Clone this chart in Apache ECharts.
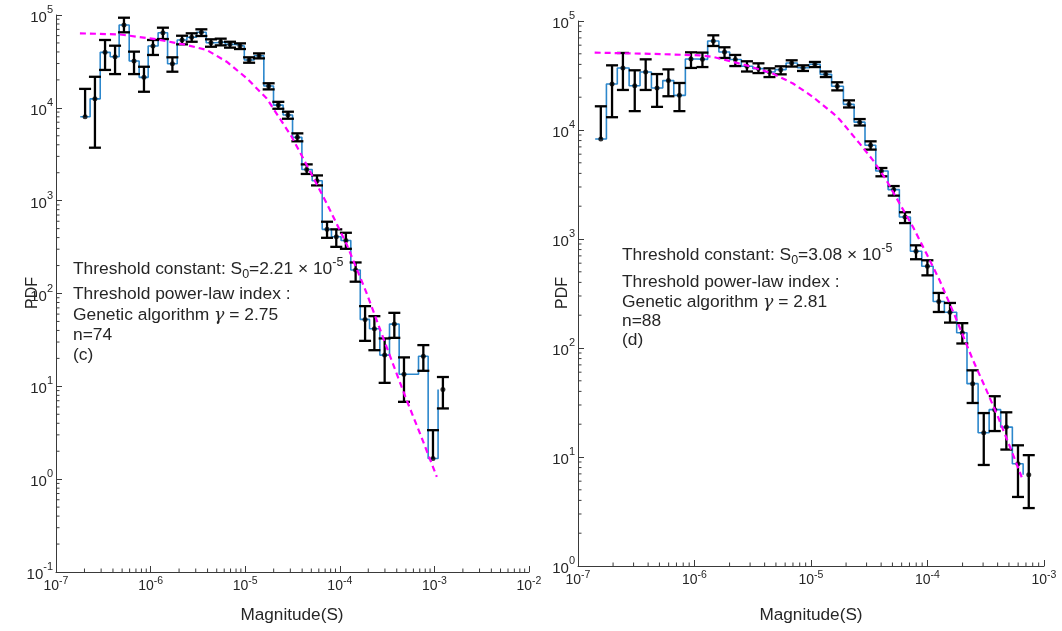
<!DOCTYPE html>
<html>
<head>
<meta charset="utf-8">
<script src="https://cdn.jsdelivr.net/npm/echarts@6/dist/echarts.min.js"></script>
<style>
  html, body { margin: 0; padding: 0; background: #ffffff; }
  #chart { width: 1062px; height: 631px; }
</style>
</head>
<body>
<div id="chart"></div>
<script>
// ---------- Panel (c) ----------
const magC = [2.03e-7, 2.58e-7, 3.30e-7, 4.21e-7, 5.23e-7, 6.68e-7, 8.51e-7, 1.06e-6, 1.35e-6, 1.70e-6,
  2.15e-6, 2.72e-6, 3.44e-6, 4.35e-6, 5.51e-6, 6.91e-6, 8.81e-6, 1.10e-5, 1.40e-5, 1.77e-5,
  2.24e-5, 2.83e-5, 3.56e-5, 4.47e-5, 5.74e-5, 7.33e-5, 9.18e-5, 1.16e-4, 1.47e-4, 1.85e-4,
  2.32e-4, 2.98e-4, 3.77e-4, 4.77e-4, 7.64e-4, 9.66e-4, 1.23e-3];
const pdfC = [8.02e3, 1.25e4, 3.96e4, 3.55e4, 7.80e4, 3.19e4, 2.13e4, 4.63e4, 6.44e4, 2.99e4,
  5.38e4, 5.75e4, 6.51e4, 5.03e4, 5.12e4, 4.83e4, 4.63e4, 3.27e4, 3.64e4, 1.72e4,
  1.07e4, 8.36e3, 4.81e3, 2.17e3, 1.64e3, 491, 408, 373, 179, 52.6,
  41.7, 21.7, 46.8, 13.5, 21.1, 1.67, 9.27];
const errHighC = [1.60e4, 2.16e4, 5.38e4, 4.67e4, 9.35e4, 4.03e4, 2.77e4, 5.38e4, 7.30e4, 3.50e4,
  5.98e4, 6.35e4, 7.01e4, 5.47e4, 5.56e4, 5.15e4, 4.95e4, 3.50e4, 3.86e4, 1.84e4,
  1.16e4, 9.08e3, 5.31e3, 2.46e3, 1.87e3, 593, 491, 451, 216, 73.1,
  57.0, 32.8, 61.9, 20.5, 27.8, 3.37, 12.6];
// null: the lower end falls at or below zero and is not drawn on the log scale
const errLowC = [null, 3.72e3, 2.56e4, 2.31e4, 6.51e4, 2.31e4, 1.49e4, 3.71e4, 5.51e4, 2.45e4,
  4.83e4, 5.15e4, 5.94e4, 4.55e4, 4.71e4, 4.45e4, 4.30e4, 3.06e4, 3.41e4, 1.58e4,
  9.77e3, 7.63e3, 4.36e3, 1.94e3, 1.46e3, 398, 318, 303, 134, 30.9,
  24.5, 10.9, 33.3, 6.81, 14.7, null, 5.78];
const fitMagC = [1.79e-7, 4.75e-7, 1.16e-6, 2.41e-6, 3.92e-6, 6.37e-6, 1.04e-5, 1.69e-5,
  3.10e-5, 4.47e-5, 7.27e-5, 1.18e-4, 1.92e-4, 3.13e-4, 5.09e-4, 7.05e-4, 1.06e-3];
const fitPdfC = [6.35e4, 6.17e4, 5.47e4, 4.75e4, 4.20e4, 3.14e4, 2.08e4, 1.26e4,
  4.88e3, 2.42e3, 935, 340, 101, 26.4, 7.10, 3.10, 1.06];
const binLogWidthC = 0.102;   // histogram bin width in decades

// ---------- Panel (d) ----------
const magD = [1.57e-7, 1.96e-7, 2.43e-7, 3.07e-7, 3.81e-7, 4.77e-7, 5.97e-7, 7.42e-7, 9.33e-7, 1.17e-6,
  1.45e-6, 1.81e-6, 2.24e-6, 2.82e-6, 3.54e-6, 4.40e-6, 5.50e-6, 6.83e-6, 8.54e-6, 1.08e-5,
  1.34e-5, 1.68e-5, 2.12e-5, 2.62e-5, 3.25e-5, 4.02e-5, 5.13e-5, 6.41e-5, 7.97e-5, 9.98e-5,
  1.25e-4, 1.56e-4, 1.99e-4, 2.44e-4, 3.04e-4, 3.78e-4, 4.75e-4, 5.98e-4, 7.40e-4];
const pdfD = [8.27e3, 2.64e4, 3.71e4, 2.55e4, 3.40e4, 2.43e4, 2.84e4, 2.08e4, 4.48e4, 4.45e4,
  6.56e4, 5.20e4, 4.43e4, 3.84e4, 3.66e4, 3.40e4, 3.58e4, 4.12e4, 3.73e4, 4.01e4,
  3.24e4, 2.52e4, 1.72e4, 1.18e4, 7.24e3, 4.21e3, 2.84e3, 1.59e3, 771, 562,
  267, 213, 138, 47.1, 16.7, 27.2, 18.8, 8.67, 6.89];
const errHighD = [1.65e4, 3.92e4, 5.09e4, 3.53e4, 4.45e4, 3.26e4, 3.60e4, 2.70e4, 5.16e4, 5.13e4,
  7.39e4, 5.74e4, 4.88e4, 4.27e4, 4.09e4, 3.68e4, 3.84e4, 4.36e4, 3.92e4, 4.21e4,
  3.44e4, 2.74e4, 1.87e4, 1.26e4, 7.87e3, 4.48e3, 3.06e3, 1.76e3, 875, 638,
  320, 259, 169, 62.4, 25.3, 36.1, 25.7, 12.8, 10.4];
const errLowD = [null, 1.31e4, 2.33e4, 1.49e4, 2.33e4, 1.63e4, 2.04e4, 1.49e4, 3.71e4, 3.78e4,
  5.90e4, 4.58e4, 3.86e4, 3.44e4, 3.33e4, 3.06e4, 3.24e4, 3.82e4, 3.48e4, 3.78e4,
  3.06e4, 2.31e4, 1.61e4, 1.10e4, 6.61e3, 3.76e3, 2.50e3, 1.40e3, 652, 464,
  214, 171, 110, 31.3, 8.45, 17.3, 11.7, 4.30, 3.40];
const fitMagD = [1.39e-7, 4.13e-7, 1.11e-6, 1.44e-6, 2.79e-6, 4.72e-6, 7.01e-6, 1.04e-5, 1.55e-5,
  1.76e-5, 2.62e-5, 3.41e-5, 4.44e-5, 5.77e-5, 7.51e-5, 9.79e-5, 1.27e-4, 1.71e-4, 2.46e-4,
  3.21e-4, 4.03e-4, 5.25e-4, 6.44e-4];
const fitPdfD = [5.13e4, 5.00e4, 4.84e4, 4.69e4, 3.92e4, 3.29e4, 2.67e4, 2.01e4, 1.42e4,
  1.25e4, 7.50e3, 5.27e3, 3.46e3, 2.11e3, 1.29e3, 735, 418, 200, 77.1,
  40.9, 23.3, 11.5, 6.52];
const binLogWidthD = 0.0967;

// ---------- Annotation text ----------
const notesC = { s0: '2.21', s0Exp: '-5', gamma: '2.75', n: 'n=74', tag: '(c)' };
const notesD = { s0: '3.08', s0Exp: '-5', gamma: '2.81', n: 'n=88', tag: '(d)' };

// ---------- Styling ----------
const FONT = 'Liberation Sans, Arial, Helvetica, sans-serif';
const AXIS_COLOR = '#3a3a3a';
const TEXT_COLOR = '#262626';
const STAIR_COLOR = '#2c87cc';
const FIT_COLOR = '#ff00ff';

const chart = echarts.init(document.getElementById('chart'), null, { renderer: 'canvas' });

function powerLabel(v) {
  const e = Math.round(Math.log10(v));
  return '{b|10}{s|' + e + '}';
}

function labelRich(isY) {
  return {
    b: { fontSize: isY ? 15 : 14, fontFamily: FONT, color: TEXT_COLOR, padding: isY ? [6, 0, 0, 0] : 0 },
    s: { fontSize: isY ? 11 : 10.5, fontFamily: FONT, color: TEXT_COLOR, padding: [0, 0, 10, 0] }
  };
}

function xAxisCfg(gi, max, n) {
  return {
    type: 'log', logBase: 10, gridIndex: gi, min: 1e-7, max: max, splitNumber: n,
    axisLine: { show: true, onZero: false, lineStyle: { color: AXIS_COLOR, width: 1 } },
    axisTick: { show: true, inside: true, length: 6, lineStyle: { color: AXIS_COLOR, width: 1 } },
    minorTick: { show: false },
    splitLine: { show: false },
    axisLabel: { formatter: powerLabel, margin: 4, rich: labelRich(false), showMinLabel: true, showMaxLabel: true }
  };
}

function yAxisCfg(gi, min, n) {
  return {
    type: 'log', logBase: 10, gridIndex: gi, min: min, max: 1e5, splitNumber: n,
    axisLine: { show: true, onZero: false, lineStyle: { color: AXIS_COLOR, width: 1 } },
    axisTick: { show: true, inside: true, length: 6, lineStyle: { color: AXIS_COLOR, width: 1 } },
    minorTick: { show: false },
    splitLine: { show: false },
    axisLabel: { formatter: powerLabel, margin: 3, rich: labelRich(true), showMinLabel: true, showMaxLabel: true }
  };
}

// minor ticks at 2..9 x 10^k inside each decade
function minorValues(lo, hi) {
  const out = [];
  for (let e = Math.round(Math.log10(lo)); e < Math.round(Math.log10(hi)); e++) {
    for (let m = 2; m <= 9; m++) out.push(m * Math.pow(10, e));
  }
  return out;
}

function minorTickSeries(gi, axisDim, values, xMin, yMin) {
  return {
    type: 'custom', xAxisIndex: gi, yAxisIndex: gi, silent: true, z: 1,
    data: values.map(v => axisDim === 'x' ? [v, yMin] : [xMin, v]),
    renderItem: function (params, api) {
      const p = api.coord([api.value(0), api.value(1)]);
      const len = 3.5;
      const shape = axisDim === 'x'
        ? { x1: p[0], y1: p[1], x2: p[0], y2: p[1] - len }
        : { x1: p[0], y1: p[1], x2: p[0] + len, y2: p[1] };
      return { type: 'line', shape: shape, style: { stroke: AXIS_COLOR, lineWidth: 1 } };
    }
  };
}

function stairSeries(gi, mags, pdfs, binW) {
  const half = Math.pow(10, binW / 2);
  return {
    type: 'line', xAxisIndex: gi, yAxisIndex: gi, step: 'end', showSymbol: false, silent: true, z: 2,
    lineStyle: { color: STAIR_COLOR, width: 1.6 },
    data: mags.map((m, i) => [m / half, pdfs[i]])
  };
}

function errorBarSeries(gi, mags, pdfs, lows, highs) {
  return {
    type: 'custom', xAxisIndex: gi, yAxisIndex: gi, silent: true, z: 3,
    encode: { x: 0, y: 1 },
    data: mags.map((m, i) => [m, pdfs[i], lows[i] == null ? pdfs[i] : lows[i], highs[i]]),
    renderItem: function (params, api) {
      const x = api.value(0), y = api.value(1), lo = api.value(2), hi = api.value(3);
      const pTop = api.coord([x, hi]);
      const pBot = api.coord([x, lo]);
      const hw = 6;
      const st = { stroke: '#000000', lineWidth: 2.3 };
      const kids = [
        { type: 'line', shape: { x1: pTop[0], y1: pTop[1], x2: pBot[0], y2: pBot[1] }, style: st },
        { type: 'line', shape: { x1: pTop[0] - hw, y1: pTop[1], x2: pTop[0] + hw, y2: pTop[1] }, style: st }
      ];
      if (lo < y) {
        kids.push({ type: 'line', shape: { x1: pBot[0] - hw, y1: pBot[1], x2: pBot[0] + hw, y2: pBot[1] }, style: st });
      }
      return { type: 'group', children: kids };
    }
  };
}

function pointSeries(gi, mags, pdfs) {
  return {
    type: 'scatter', xAxisIndex: gi, yAxisIndex: gi, silent: true, z: 4,
    symbol: 'circle', symbolSize: 5,
    itemStyle: { color: '#000000' },
    data: mags.map((m, i) => [m, pdfs[i]])
  };
}

function fitSeries(gi, mags, pdfs) {
  return {
    type: 'line', xAxisIndex: gi, yAxisIndex: gi, showSymbol: false, silent: true, z: 5,
    smooth: false,
    lineStyle: { color: FIT_COLOR, width: 2.2, type: [6, 4] },
    data: mags.map((m, i) => [m, pdfs[i]])
  };
}

const textRich = {
  t: { fontSize: 17.4, fontFamily: FONT, color: TEXT_COLOR },
  sub: { fontSize: 12.5, fontFamily: FONT, color: TEXT_COLOR, padding: [11, 0, 0, 0] },
  sup: { fontSize: 12.5, fontFamily: FONT, color: TEXT_COLOR, padding: [0, 0, 12, 0] },
  g: { fontSize: 17.4, fontFamily: 'DejaVu Serif, serif', fontStyle: 'italic', color: TEXT_COLOR }
};

function noteText(x, y, text) {
  return {
    type: 'text', x: x, y: y, silent: true,
    style: { text: text, rich: textRich, fontSize: 17.4, fontFamily: FONT, fill: TEXT_COLOR, verticalAlign: 'middle', align: 'left' }
  };
}

function notes(x, ys, d) {
  return [
    noteText(x, ys[0], '{t|Threshold constant: S}{sub|0}{t|=' + d.s0 + ' \u00d7 10}{sup|' + d.s0Exp + '}'),
    noteText(x, ys[1], '{t|Threshold power-law index :}'),
    noteText(x, ys[2], '{t|Genetic algorithm }{g|\u03b3}{t| = ' + d.gamma + '}'),
    noteText(x, ys[3], '{t|' + d.n + '}'),
    noteText(x, ys[4], '{t|' + d.tag + '}')
  ];
}

function plainText(x, y, text, size, rot) {
  return {
    type: 'text', x: x, y: y, rotation: rot || 0, silent: true,
    style: { text: text, fontSize: size, fontFamily: FONT, fill: TEXT_COLOR, align: 'center', verticalAlign: 'middle' }
  };
}

const option = {
  animation: false,
  backgroundColor: '#ffffff',
  grid: [
    { left: 56, top: 15, width: 473, height: 557, outerBoundsMode: 'none', containLabel: false },
    { left: 578, top: 21, width: 466, height: 545, outerBoundsMode: 'none', containLabel: false }
  ],
  xAxis: [xAxisCfg(0, 1e-2, 5), xAxisCfg(1, 1e-3, 4)],
  yAxis: [yAxisCfg(0, 0.1, 6), yAxisCfg(1, 1, 5)],
  series: [
    minorTickSeries(0, 'x', minorValues(1e-7, 1e-2), 1e-7, 0.1),
    minorTickSeries(0, 'y', minorValues(0.1, 1e5), 1e-7, 0.1),
    minorTickSeries(1, 'x', minorValues(1e-7, 1e-3), 1e-7, 1),
    minorTickSeries(1, 'y', minorValues(1, 1e5), 1e-7, 1),
    stairSeries(0, magC, pdfC, binLogWidthC),
    errorBarSeries(0, magC, pdfC, errLowC, errHighC),
    pointSeries(0, magC, pdfC),
    fitSeries(0, fitMagC, fitPdfC),
    stairSeries(1, magD, pdfD, binLogWidthD),
    errorBarSeries(1, magD, pdfD, errLowD, errHighD),
    pointSeries(1, magD, pdfD),
    fitSeries(1, fitMagD, fitPdfD)
  ],
  graphic: [
    ...notes(73, [269, 294, 315, 335, 355], notesC),
    ...notes(622, [255, 282, 302, 321, 340], notesD),
    plainText(33, 293, 'PDF', 16, Math.PI / 2),
    plainText(563, 293, 'PDF', 16, Math.PI / 2),
    plainText(292, 615, 'Magnitude(S)', 17.2),
    plainText(811, 615, 'Magnitude(S)', 17.2)
  ]
};

chart.setOption(option);
</script>
</body>
</html>
